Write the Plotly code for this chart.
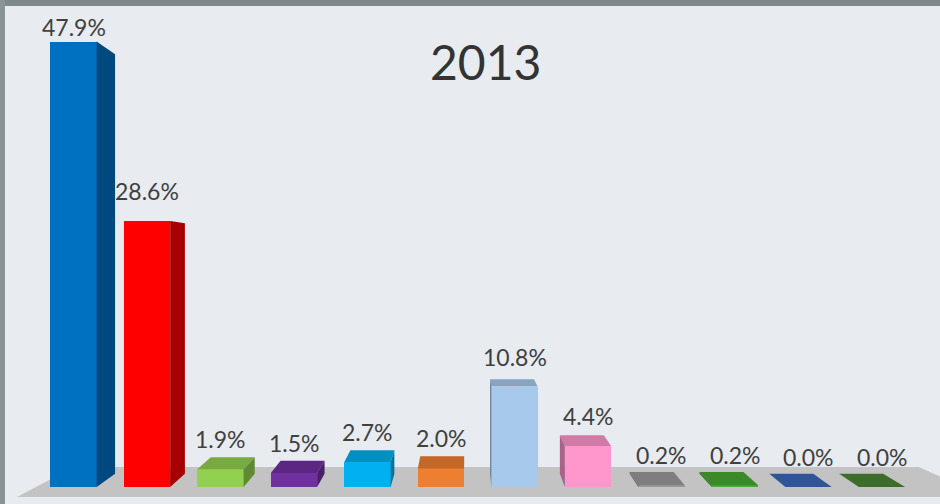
import plotly.graph_objects as go

# ---- data ----
parties = ["P1", "P2", "P3", "P4", "P5", "P6", "P7", "P8", "P9", "P10", "P11", "P12"]
shares = [47.9, 28.6, 1.9, 1.5, 2.7, 2.0, 10.8, 4.4, 0.2, 0.2, 0.0, 0.0]
colors = ["#0070c0", "#ff0000", "#92d050", "#7030a0", "#00b0f0", "#ef7f30",
          "#a6c9ec", "#ff96cc", "#9a9a9a", "#4aa834", "#3a68b8", "#4a8634"]
title_text = "2013"

# ---- geometry helpers (pixel <-> axis units) ----
W, H = 940, 504
STEP, Y0, YS = 73.5, 487.0, 9.3


def xd(px):
    return px / STEP - 1


def yd(py):
    return (Y0 - py) / YS


VX, VY = xd(465), yd(260)   # vanishing point
DX, DY = 0.05, 0.058        # bar depth as fraction toward vanishing point
BW = 0.63                   # bar width (axis units)


def back(x, y, fx=DX, fy=DY):
    return x + fx * (VX - x), y + fy * (VY - y)


def shade(hexc, k):
    hexc = hexc.lstrip("#")
    r, g, b = (int(hexc[i:i + 2], 16) for i in (0, 2, 4))
    return "#%02x%02x%02x" % (int(r * k), int(g * k), int(b * k))


fig = go.Figure()

# floor slab (drawn beneath all traces)
fx0, fx1, fyy = xd(17), xd(985), yd(497)
FD = 0.127
bl = back(fx0, fyy, FD, FD)
br = back(fx1, fyy, FD, FD)
fig.add_shape(type="path", xref="x", yref="y", layer="below",
              path=f"M {fx0},{fyy} L {fx1},{fyy} L {br[0]},{br[1]} L {bl[0]},{bl[1]} Z",
              fillcolor="#c3c3c3", line=dict(width=0))

# 3D faces (side / top) computed from the data
for i, (v, c) in enumerate(zip(shares, colors)):
    xl, xr = i - BW / 2, i + BW / 2
    if v < VY:  # top face visible
        a, b = back(xr, v), back(xl, v)
        fig.add_trace(go.Scatter(
            x=[xl, xr, a[0], b[0], xl], y=[v, v, a[1], b[1], v],
            fill="toself", fillcolor=shade(c, 0.82), mode="lines",
            line=dict(width=0), hoverinfo="skip", showlegend=False))
    if xr < VX:
        edge = xr
    elif xl > VX:
        edge = xl
    else:
        edge = None
    if edge is not None and v > 0:
        t, b0 = back(edge, v), back(edge, 0)
        fig.add_trace(go.Scatter(
            x=[edge, edge, t[0], b0[0], edge], y=[0, v, t[1], b0[1], 0],
            fill="toself", fillcolor=shade(c, 0.66), mode="lines",
            line=dict(width=0), hoverinfo="skip", showlegend=False))

# front faces
fig.add_trace(go.Bar(
    x=list(range(len(parties))), y=shares, width=BW,
    marker=dict(color=colors, line=dict(width=0)),
    hovertext=parties, showlegend=False))

# value labels
for i, v in enumerate(shares):
    fig.add_annotation(
        x=i, y=v, text=f"{v:.1f}%", showarrow=False, yanchor="bottom",
        yshift=-1 if v > 40 else 14,
        font=dict(family="Lato, Open Sans, sans-serif", size=23, color="#404040"))

# title
fig.add_annotation(
    x=485 / W, y=1 - 61 / H, xref="paper", yref="paper", text=title_text,
    showarrow=False, xanchor="center", yanchor="middle",
    font=dict(family="Lato, Open Sans, sans-serif", size=48, color="#333333"))

# window frame edges
fig.add_shape(type="rect", xref="paper", yref="paper", x0=0, x1=1,
              y0=1 - 6 / H, y1=1, fillcolor="#7e898b", line=dict(width=0), layer="above")
fig.add_shape(type="rect", xref="paper", yref="paper", x0=0, x1=5 / W,
              y0=0, y1=1, fillcolor="#8a9496", line=dict(width=0), layer="above")

fig.update_layout(
    width=W, height=H, margin=dict(l=0, r=0, t=0, b=0),
    paper_bgcolor="#e8ecf0", plot_bgcolor="#e8ecf0",
    xaxis=dict(range=[xd(0), xd(W)], visible=False, fixedrange=True),
    yaxis=dict(range=[yd(H), yd(0)], visible=False, fixedrange=True),
    bargap=0, showlegend=False)

fig.write_html("out.html")
